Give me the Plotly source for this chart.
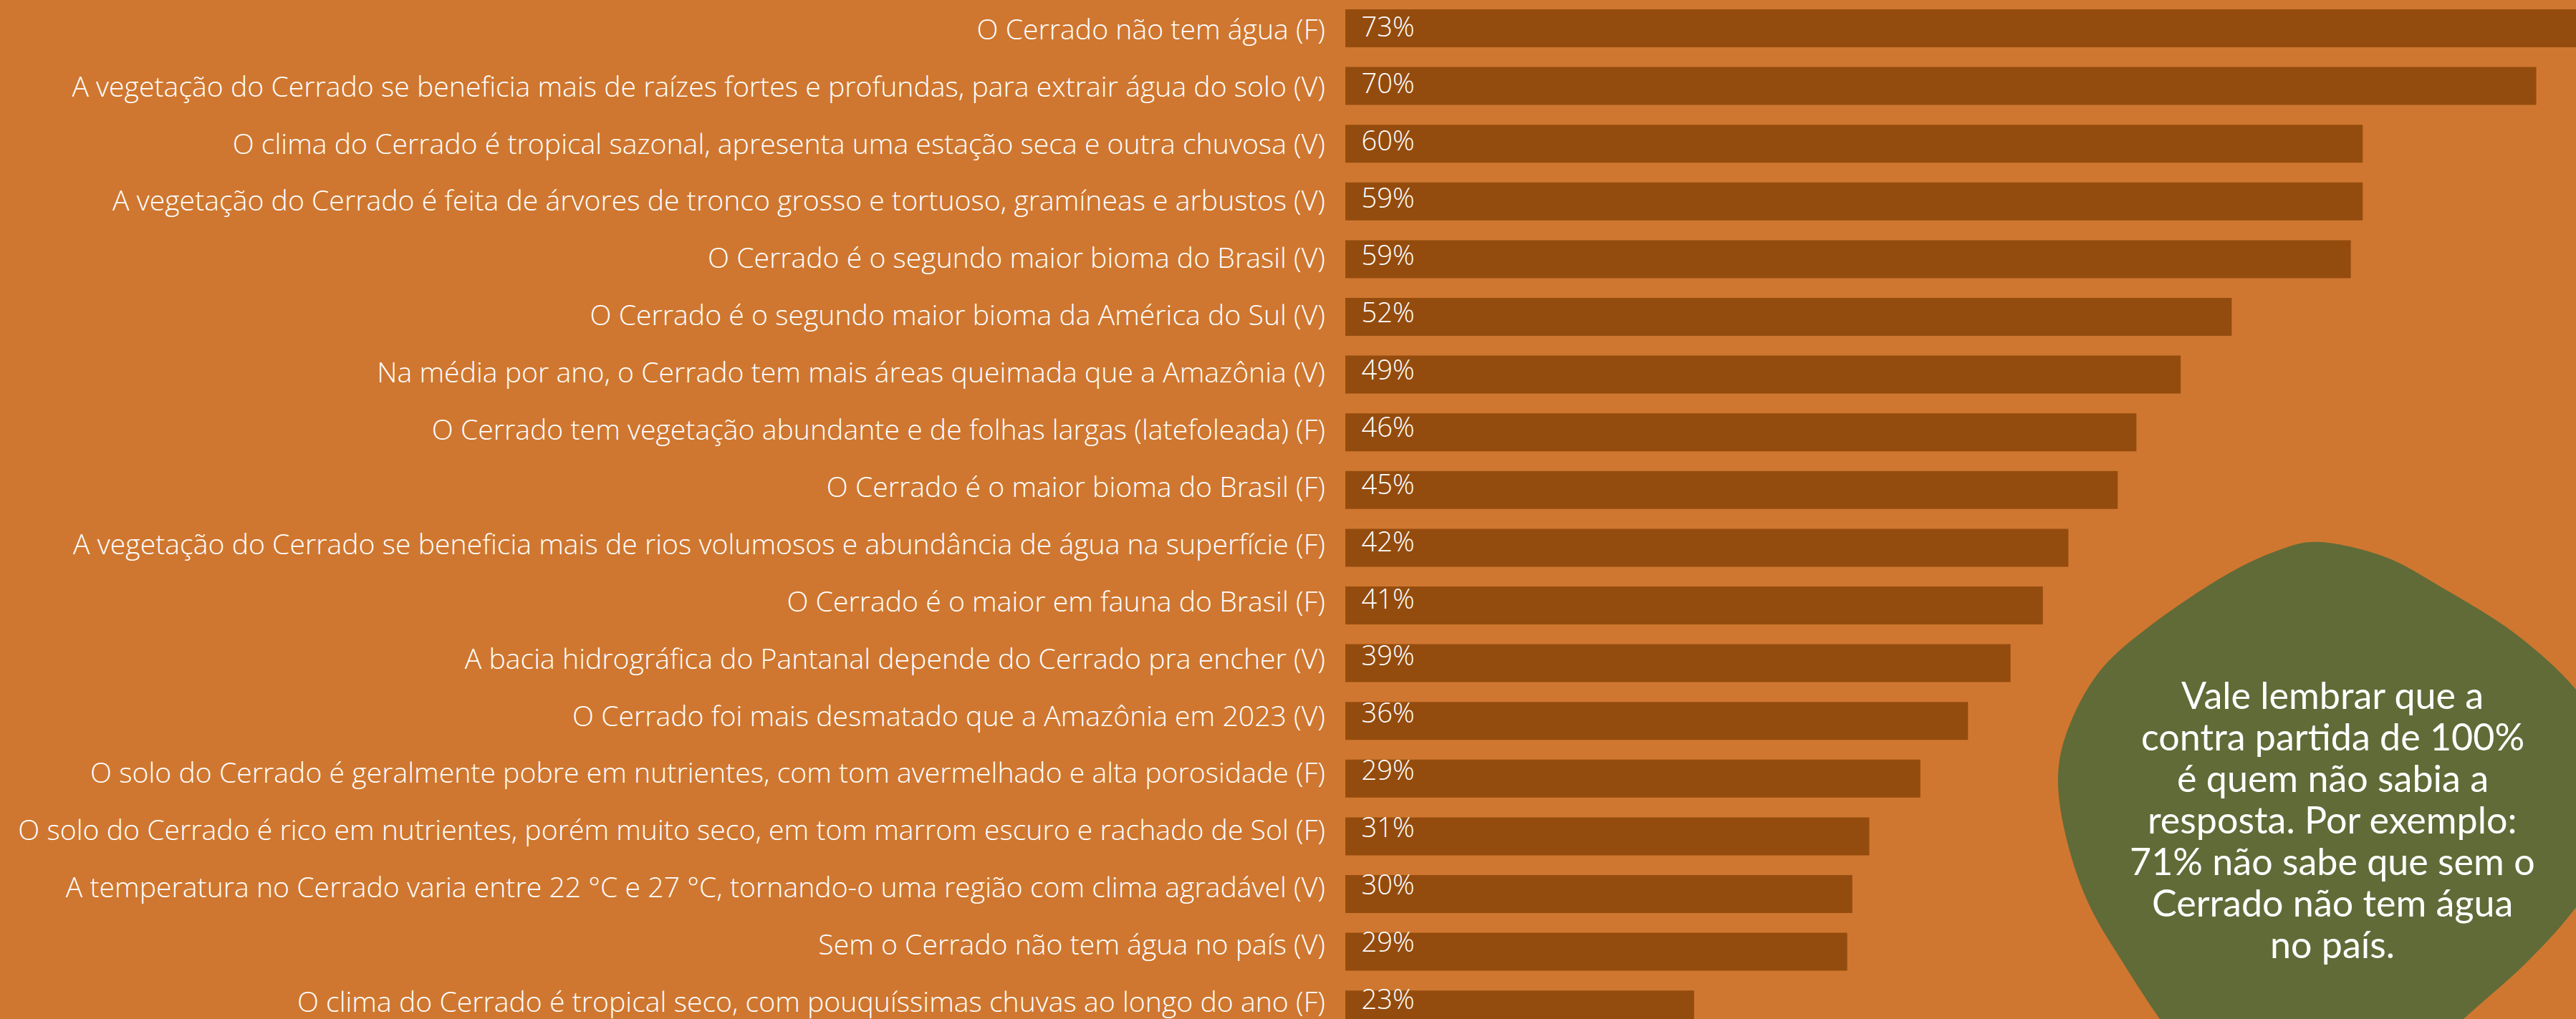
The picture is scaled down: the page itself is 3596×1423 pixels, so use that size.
import plotly.graph_objects as go

categories = [
    "O Cerrado não tem água (F)",
    "A vegetação do Cerrado se beneficia mais de raízes fortes e profundas, para extrair água do solo (V)",
    "O clima do Cerrado é tropical sazonal, apresenta uma estação seca e outra chuvosa (V)",
    "A vegetação do Cerrado é feita de árvores de tronco grosso e tortuoso, gramíneas e arbustos (V)",
    "O Cerrado é o segundo maior bioma do Brasil (V)",
    "O Cerrado é o segundo maior bioma da América do Sul (V)",
    "Na média por ano, o Cerrado tem mais áreas queimada que a Amazônia (V)",
    "O Cerrado tem vegetação abundante e de folhas largas (latefoleada) (F)",
    "O Cerrado é o maior bioma do Brasil (F)",
    "A vegetação do Cerrado se beneficia mais de rios volumosos e abundância de água na superfície (F)",
    "O Cerrado é o maior em fauna do Brasil (F)",
    "A bacia hidrográfica do Pantanal depende do Cerrado pra encher (V)",
    "O Cerrado foi mais desmatado que a Amazônia em 2023 (V)",
    "O solo do Cerrado é geralmente pobre em nutrientes, com tom avermelhado e alta porosidade (F)",
    "O solo do Cerrado é rico em nutrientes, porém muito seco, em tom marrom escuro e rachado de Sol (F)",
    "A temperatura no Cerrado varia entre 22 °C e 27 °C, tornando-o uma região com clima agradável (V)",
    "Sem o Cerrado não tem água no país (V)",
    "O clima do Cerrado é tropical seco, com pouquíssimas chuvas ao longo do ano (F)",
]

bar_values = [73.0, 70.0, 59.8, 59.8, 59.1, 52.1, 49.1, 46.5, 45.4, 42.5,
              41.0, 39.1, 36.6, 33.8, 30.8, 29.8, 29.5, 20.5]

value_labels = ["73%", "70%", "60%", "59%", "59%", "52%", "49%", "46%", "45%", "42%",
                "41%", "39%", "36%", "29%", "31%", "30%", "29%", "23%"]

note_lines = [
    "Vale lembrar que a",
    "contra partida de 100%",
    "é quem não sabia a",
    "resposta. Por exemplo:",
    "71% não sabe que sem o",
    "Cerrado não tem água",
    "no país.",
]

W, H = 3596, 1423
BG = "#CF7730"
BAR = "#944C0E"
GREEN = "#606B38"
LABEL_FONT = "Open Sans, sans-serif"

plot_left = 1878
plot_w = W - plot_left
px_per_unit = 23.75
x_max = plot_w / px_per_unit

# bar rows
pitch = 80.6
first_center = 39.5
r_top = -first_center / pitch
r_bot = r_top + H / pitch

# text rows (labels sit on a slightly tighter pitch in the original)
t_pitch = 79.9
t_first = 41.0
t_top = -t_first / t_pitch
t_bot = t_top + H / t_pitch

fig = go.Figure()
fig.add_trace(go.Bar(
    y=categories, x=bar_values, orientation="h",
    marker=dict(color=BAR, line=dict(width=0)),
    hoverinfo="skip", showlegend=False,
))
label_offset = 0.95
fig.add_trace(go.Scatter(
    y=categories, x=[label_offset] * len(categories), mode="text", yaxis="y2",
    text=value_labels, textposition="middle right",
    textfont=dict(color="white", size=38, family=LABEL_FONT, weight=300),
    hoverinfo="skip", showlegend=False, cliponaxis=False,
))

# decorative blob (pixel outline converted to paper coords)
blob_px = [
    (3240, 757), (3330, 778), (3408, 820), (3510, 884), (3596, 963),
    (3650, 1050), (3660, 1170), (3596, 1267), (3526, 1345), (3439, 1423),
    (3380, 1480), (3060, 1480), (3015, 1423), (2964, 1345), (2918, 1267),
    (2888, 1184), (2873, 1096), (2885, 1023), (2929, 940), (3000, 875),
    (3102, 806), (3179, 769),
]

def to_paper(p):
    return ((p[0] - plot_left) / plot_w, 1 - p[1] / H)

pts = [to_paper(p) for p in blob_px]
n = len(pts)
path = "M {:.5f},{:.5f}".format(*pts[0])
for i in range(n):
    p0 = pts[(i - 1) % n]
    p1 = pts[i]
    p2 = pts[(i + 1) % n]
    p3 = pts[(i + 2) % n]
    c1 = (p1[0] + (p2[0] - p0[0]) / 6, p1[1] + (p2[1] - p0[1]) / 6)
    c2 = (p2[0] - (p3[0] - p1[0]) / 6, p2[1] - (p3[1] - p1[1]) / 6)
    path += " C {:.5f},{:.5f} {:.5f},{:.5f} {:.5f},{:.5f}".format(*c1, *c2, *p2)
path += " Z"

fig.add_shape(type="path", path=path, xref="paper", yref="paper",
              fillcolor=GREEN, line=dict(width=0), layer="above")

note_cx = 3256
note_first_y = 970
note_step = 58
for k, line in enumerate(note_lines):
    fig.add_annotation(
        x=(note_cx - plot_left) / plot_w, y=1 - (note_first_y + k * note_step) / H,
        xref="paper", yref="paper",
        text=line, showarrow=False, align="center",
        xanchor="center", yanchor="middle",
        font=dict(color="white", size=52, family="Lato, sans-serif"),
    )

fig.update_layout(
    width=W, height=H,
    paper_bgcolor=BG, plot_bgcolor=BG,
    margin=dict(l=plot_left, r=0, t=0, b=0, autoexpand=False),
    bargap=0.342,
    xaxis=dict(range=[0, x_max], visible=False, showgrid=False, zeroline=False),
    yaxis=dict(range=[r_bot, r_top], showgrid=False, zeroline=False, showline=False,
               ticks="", showticklabels=False, automargin=False),
    yaxis2=dict(range=[t_bot, t_top], overlaying="y", side="left", anchor="x",
                showgrid=False, zeroline=False, showline=False,
                ticks="", ticklabelstandoff=27, automargin=False,
                tickfont=dict(color="white", size=39.2, family=LABEL_FONT, weight=300)),
)

fig.write_html(
    "out.html",
    config={"displayModeBar": False, "staticPlot": True},
    post_script="document.body.style.margin='0';document.body.style.padding='0';"
                "document.body.style.overflow='hidden';document.body.style.background='" + BG + "';",
)
